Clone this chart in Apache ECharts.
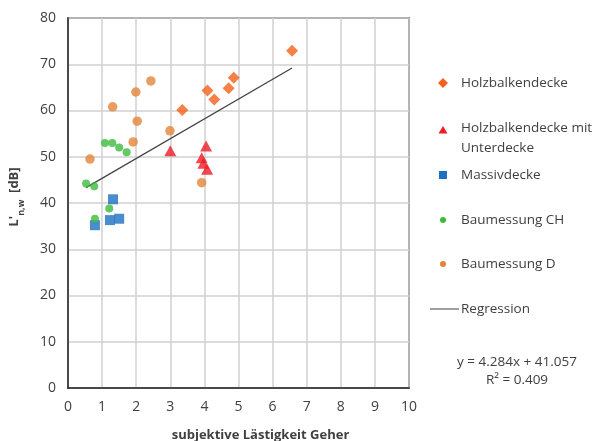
<!DOCTYPE html>
<html><head><meta charset="utf-8">
<script src="https://cdn.jsdelivr.net/npm/echarts@6/dist/echarts.min.js"></script>
<style>html,body{margin:0;padding:0;background:#fff}#c{width:597px;height:441px}</style>
</head><body><div id="c"></div>
<script>
const xTicks = [0,1,2,3,4,5,6,7,8,9,10];
const yTicks = [0,10,20,30,40,50,60,70,80];
const holzbalken = [[6.57,72.9],[4.86,67.1],[4.71,64.8],[4.09,64.3],[4.29,62.4],[3.35,60.1]];
const holzUnterdecke = [[3.0,51.3],[4.05,52.3],[3.92,49.8],[3.97,48.6],[4.08,47.3]];
const massiv = [[1.32,40.8],[0.79,35.2],[1.23,36.3],[1.5,36.6]];
const baumCH = [[1.085,53.0],[1.3,53.0],[1.5,52.0],[1.72,51.0],[0.53,44.2],[0.77,43.6],[1.21,38.8],[0.79,36.6]];
const baumD = [[2.43,66.4],[1.99,64.0],[1.31,60.8],[2.03,57.7],[2.99,55.6],[1.91,53.2],[0.645,49.5],[3.92,44.4]];
const regSlope = 4.284, regIntercept = 41.057, regR2 = 0.409;
const regX = [0.53, 6.57];
const regression = regX.map(x => [x, regSlope * x + regIntercept]);

const FONT = '"Open Sans", "Noto Sans", sans-serif';
const chart = echarts.init(document.getElementById('c'), null, {renderer:'canvas'});
const TXT = '13.5px ' + FONT;
function legText(x, y, t) {
  return {type: 'text', x: x, y: y, style: {text: t, verticalAlign: 'middle', font: TXT, fill: '#404040'}};
}
chart.setOption({
  animation: false,
  backgroundColor: '#fff',
  grid: {left: 68, right: 188, top: 18, bottom: 53, containLabel: false, outerBoundsMode: 'none',
    show: true, borderColor: '#262626', borderWidth: 1.5, backgroundColor: 'transparent'},
  xAxis: {
    type: 'value', min: 0, max: 10, interval: 1,
    axisLine: {show: true, lineStyle: {color: '#262626', width: 1.5}},
    axisTick: {show: false},
    splitLine: {show: true, lineStyle: {color: '#D0D0D0', width: 1.5}},
    axisLabel: {fontFamily: FONT, fontSize: 14, color: '#404040', margin: 12,
      formatter: v => xTicks.includes(v) ? String(v) : ''},
    name: 'subjektive Lästigkeit Geher', nameLocation: 'middle', nameGap: 41,
    nameTextStyle: {fontFamily: FONT, fontSize: 13, fontWeight: 'bold', color: '#404040', padding: [0,0,0,44]}
  },
  yAxis: {
    type: 'value', min: 0, max: 80, interval: 10,
    axisLine: {show: true, lineStyle: {color: '#262626', width: 1.5}},
    axisTick: {show: false},
    splitLine: {show: true, lineStyle: {color: '#D0D0D0', width: 1.5}},
    axisLabel: {fontFamily: FONT, fontSize: 14, color: '#404040', margin: 12,
      formatter: v => yTicks.includes(v) ? String(v) : ''},
    name: "{a|L'}{s|n,w}{a|  [dB]}", nameLocation: 'middle', nameGap: 42, nameRotate: 90,
    nameTextStyle: {fontFamily: FONT, color: '#404040', padding: [0,0,0,12],
      rich: {
        a: {fontFamily: FONT, fontSize: 13, fontWeight: 'bold', color: '#404040', lineHeight: 18, verticalAlign: 'top'},
        s: {fontFamily: FONT, fontSize: 9, fontWeight: 'bold', color: '#404040', lineHeight: 18, verticalAlign: 'bottom', padding: [6,0,0,0]}
      }}
  },
  legend: {show: false},
  series: [
    {name: 'Holzbalkendecke', type: 'scatter', data: holzbalken, symbol: 'diamond', symbolSize: [12,12], itemStyle: {color: '#F2621C'}, z: 5},
    {name: 'Holzbalkendecke mit Unterdecke', type: 'scatter', data: holzUnterdecke, symbol: 'triangle', symbolSize: [12,11], itemStyle: {color: '#EE1C25'}, z: 5},
    {name: 'Massivdecke', type: 'scatter', data: massiv, symbol: 'rect', symbolSize: [10,10], itemStyle: {color: '#1E6FBF'}, z: 4},
    {name: 'Baumessung CH', type: 'scatter', data: baumCH, symbol: 'circle', symbolSize: 8, itemStyle: {color: '#3DBB3D'}, z: 5},
    {name: 'Baumessung D', type: 'scatter', data: baumD, symbol: 'circle', symbolSize: 9.5, itemStyle: {color: '#E4843A'}, z: 5},
    {name: 'Regression', type: 'line', data: regression, symbol: 'none', lineStyle: {color: '#404040', width: 1.2}, z: 3}
  ],
  graphic: [
    {type: 'polygon', shape: {points: [[443,78],[448,83],[443,88],[438,83]]}, style: {fill: '#F2621C'}},
    legText(461, 83, 'Holzbalkendecke'),
    {type: 'polygon', shape: {points: [[443,126],[447.5,133.5],[438.5,133.5]]}, style: {fill: '#EE1C25'}},
    legText(461, 128, 'Holzbalkendecke mit'),
    legText(461, 148, 'Unterdecke'),
    {type: 'rect', shape: {x: 439, y: 171, width: 8, height: 8}, style: {fill: '#1E6FBF'}},
    legText(461, 175, 'Massivdecke'),
    {type: 'circle', shape: {cx: 443, cy: 220, r: 3}, style: {fill: '#3DBB3D'}},
    legText(461, 220, 'Baumessung CH'),
    {type: 'circle', shape: {cx: 443, cy: 264, r: 3}, style: {fill: '#E4843A'}},
    legText(461, 264, 'Baumessung D'),
    {type: 'line', shape: {x1: 430, y1: 309, x2: 459, y2: 309}, style: {stroke: '#404040', lineWidth: 1}},
    legText(461, 309, 'Regression'),
    {type: 'text', x: 517, y: 362, style: {text: 'y = ' + regSlope.toFixed(3) + 'x + ' + regIntercept.toFixed(3), align: 'center', verticalAlign: 'middle', font: TXT, fill: '#404040'}},
    {type: 'text', x: 517, y: 380, style: {text: 'R² = ' + regR2.toFixed(3), align: 'center', verticalAlign: 'middle', font: TXT, fill: '#404040'}}
  ]
});
</script>
</body></html>
